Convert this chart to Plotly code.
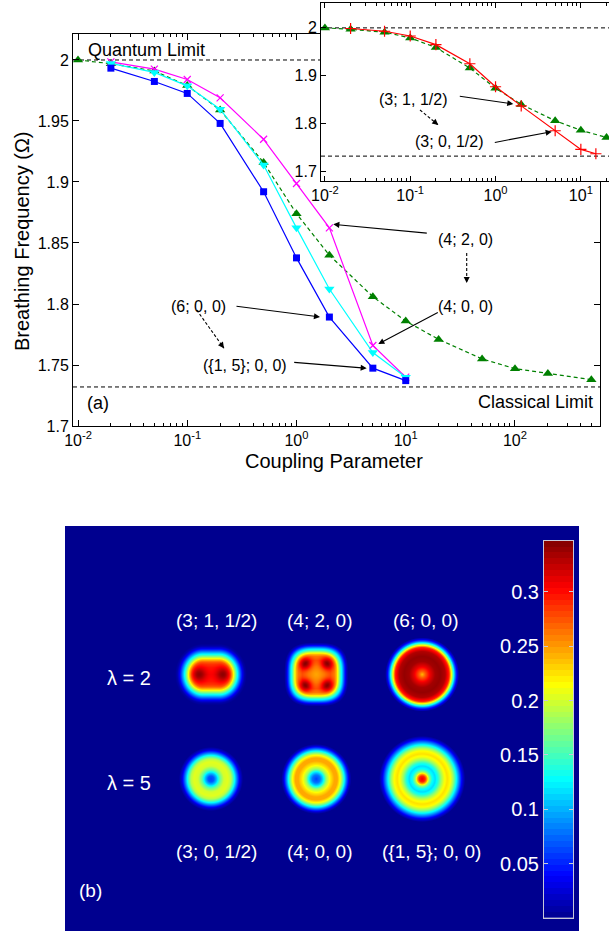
import numpy as np
import plotly.graph_objects as go

W, H = 609, 934
FONT = "Liberation Sans, Arial, Helvetica, sans-serif"

# ---------------- data: panel (a) ----------------
coupling_green = [0.01, 0.02, 0.05, 0.1, 0.2, 0.5, 1, 2, 5, 10, 20, 50, 100, 200, 500]
freq_green = [2.0, 1.997, 1.991, 1.979, 1.959, 1.916, 1.874, 1.840, 1.806, 1.786,
              1.771, 1.755, 1.747, 1.743, 1.738]
coupling_n = [0.02, 0.05, 0.1, 0.2, 0.5, 1, 2, 5, 10]
freq_blue = [1.9933, 1.9824, 1.9726, 1.948, 1.892, 1.8378, 1.7893, 1.7474, 1.7372]
freq_magenta = [1.9985, 1.9925, 1.984, 1.969, 1.935, 1.8988, 1.8624, 1.766, 1.740]
freq_cyan = [1.9972, 1.9898, 1.9788, 1.9597, 1.9139, 1.8624, 1.8123, 1.7602, 1.740]
coupling_red = [0.02, 0.05, 0.1, 0.2, 0.5, 1, 2, 5, 10, 15]
freq_red = [1.9987, 1.993, 1.983, 1.965, 1.925, 1.877, 1.837, 1.785, 1.746, 1.737]
quantum_limit = 2.0
classical_limit = 1.732

main_xrange = [0.009, 600]
inset_xrange = [0.009, 21.4]
main_yticks = [1.7, 1.75, 1.8, 1.85, 1.9, 1.95, 2.0]
main_yticklabels = ["1.7", "1.75", "1.8", "1.85", "1.9", "1.95", "2"]
main_xticks = [0.01, 0.1, 1, 10, 100]
main_xticklabels = ["10<sup>-2</sup>", "10<sup>-1</sup>", "10<sup>0</sup>", "10<sup>1</sup>", "10<sup>2</sup>"]
inset_yticks = [1.7, 1.8, 1.9, 2.0]
inset_yticklabels = ["1.7", "1.8", "1.9", "2"]
inset_xticks = [0.01, 0.1, 1, 10]
inset_xticklabels = main_xticklabels[:4]

# ---------------- data: panel (b) ----------------
states_l2 = ["(3; 1, 1/2)", "(4; 2, 0)", "(6; 0, 0)"]
states_l5 = ["(3; 0, 1/2)", "(4; 0, 0)", "({1, 5}; 0, 0)"]
lambda_labels = ["λ = 2", "λ = 5"]
cbar_ticks = [0.05, 0.1, 0.15, 0.2, 0.25, 0.3]
cbar_ticklabels = ["0.05", "0.1", "0.15", "0.2", "0.25", "0.3"]
density_max = 0.347

# density profiles: radius (image px) -> density
r_31h = [0, 6, 9, 11, 13, 15, 17, 19, 21, 23, 25, 27]
n_31h = [0.30, 0.295, 0.285, 0.27, 0.235, 0.19, 0.145, 0.105, 0.065, 0.03, 0.008, 0.0]
peak_31h = 0.045
r_420 = [0, 8, 14, 18, 20, 22, 24, 26, 28, 30, 32]
n_420 = [0.245, 0.255, 0.27, 0.26, 0.24, 0.20, 0.15, 0.11, 0.06, 0.02, 0.0]
peak_420 = 0.075
r_600 = [0, 3, 8, 13, 18, 23, 27, 29, 31, 33, 35, 37]
n_600 = [0.24, 0.27, 0.31, 0.335, 0.34, 0.33, 0.29, 0.22, 0.15, 0.08, 0.03, 0.0]
r_30h = [0, 3, 6, 9, 13, 17, 20, 23, 26, 29, 32]
n_30h = [0.06, 0.07, 0.11, 0.16, 0.20, 0.205, 0.19, 0.14, 0.08, 0.025, 0.0]
r_400 = [0, 4, 7, 10, 14, 18, 21, 24, 27, 30, 33, 35]
n_400 = [0.06, 0.08, 0.12, 0.18, 0.22, 0.245, 0.245, 0.21, 0.15, 0.08, 0.02, 0.0]
r_15 = [0, 3, 5, 7, 10, 13, 16, 19, 22, 25, 28, 31, 34, 37, 40, 43]
n_15 = [0.31, 0.29, 0.24, 0.18, 0.13, 0.115, 0.14, 0.18, 0.21, 0.225, 0.215, 0.18,
        0.13, 0.08, 0.03, 0.0]

# ---------------- helpers ----------------
def fx(p):
    return p / W


def fy(p):
    return 1 - p / H


jet = [[0.0, "rgb(0,0,143)"], [0.111, "rgb(0,0,255)"], [0.365, "rgb(0,255,255)"],
       [0.619, "rgb(255,255,0)"], [0.873, "rgb(255,0,0)"], [1.0, "rgb(128,0,0)"]]

# ---------------- density image ----------------
PX0, PX1, PY0, PY1 = 65, 579, 526, 931
xs = np.arange(PX0, PX1 + 0.5, 1.0)
ys = np.arange(PY0, PY1 + 0.5, 1.0)
X, Y = np.meshgrid(xs, ys)
Z = np.zeros_like(X)
col_x = [210.5, 315.8, 421.7]
row_y = [674.0, 778.5]


def gauss(dx, dy, s):
    return np.exp(-(dx ** 2 + dy ** 2) / (2 * s * s))


# (3;1,1/2): capsule with two maxima
dx, dy = X - col_x[0], Y - row_y[0]
d = np.sqrt((np.maximum(np.abs(dx) - 8, 0) * 0.97) ** 2 + (0.88 * dy) ** 2)
Z += np.interp(d, r_31h, n_31h, right=0)
for sx in (-12.2, 12.2):
    Z += peak_31h * gauss(dx - sx, dy, 5)
# (4;2,0): rounded square with four maxima
dx, dy = X - col_x[1], Y - row_y[0]
d = (np.abs(dx) ** 3 + np.abs(dy) ** 3) ** (1 / 3)
Z += np.interp(d, r_420, n_420, right=0)
for sx in (-10.8, 10.8):
    for sy in (-10.8, 10.8):
        Z += peak_420 * gauss(dx - sx, dy - sy, 4.5)
# radial ones
for cx, cy, rr, nn in [(col_x[2], row_y[0], r_600, n_600),
                       (col_x[0], row_y[1], r_30h, n_30h),
                       (col_x[1], row_y[1], r_400, n_400),
                       (col_x[2], row_y[1], r_15, n_15)]:
    d = np.hypot(X - cx, Y - cy)
    Z += np.interp(d, rr, nn, right=0)

fig = go.Figure()

# ---------------- panel (a) main ----------------
for lim in (quantum_limit, classical_limit):
    fig.add_trace(go.Scatter(x=main_xrange, y=[lim, lim], mode="lines",
                             line=dict(color="black", width=1, dash="4px,3px"),
                             xaxis="x", yaxis="y", hoverinfo="skip"))
fig.add_trace(go.Scatter(x=coupling_green, y=freq_green, mode="lines+markers",
                         line=dict(color="#008000", width=1.2, dash="4px,3px"),
                         marker=dict(symbol="triangle-up", size=9, color="#008000"),
                         xaxis="x", yaxis="y"))
fig.add_trace(go.Scatter(x=coupling_n, y=freq_magenta, mode="lines+markers",
                         line=dict(color="#ff00ff", width=1.2),
                         marker=dict(symbol="x-thin", size=7, line=dict(color="#ff00ff", width=1.2)),
                         xaxis="x", yaxis="y"))
fig.add_trace(go.Scatter(x=coupling_n, y=freq_cyan, mode="lines+markers",
                         line=dict(color="#00ffff", width=1.2),
                         marker=dict(symbol="triangle-down", size=9, color="#00ffff"),
                         xaxis="x", yaxis="y"))
fig.add_trace(go.Scatter(x=coupling_n, y=freq_blue, mode="lines+markers",
                         line=dict(color="#0000ff", width=1.2),
                         marker=dict(symbol="square", size=7, color="#0000ff"),
                         xaxis="x", yaxis="y"))

# ---------------- panel (a) inset ----------------
for lim in (quantum_limit, classical_limit):
    fig.add_trace(go.Scatter(x=inset_xrange, y=[lim, lim], mode="lines",
                             line=dict(color="black", width=1, dash="4px,3px"),
                             xaxis="x2", yaxis="y2", hoverinfo="skip"))
fig.add_trace(go.Scatter(x=coupling_green, y=freq_green, mode="lines+markers",
                         line=dict(color="#008000", width=1.2, dash="4px,3px"),
                         marker=dict(symbol="triangle-up", size=9, color="#008000"),
                         xaxis="x2", yaxis="y2"))
fig.add_trace(go.Scatter(x=coupling_red, y=freq_red, mode="lines+markers",
                         line=dict(color="#ff0000", width=1.2),
                         marker=dict(symbol="cross-thin", size=8, line=dict(color="#ff0000", width=1.2)),
                         xaxis="x2", yaxis="y2"))

# ---------------- panel (b) ----------------
fig.add_trace(go.Heatmap(x=xs, y=ys, z=Z.astype(np.float32), colorscale=jet, zmin=0,
                         zmax=density_max, showscale=False, hoverinfo="skip",
                         xaxis="x3", yaxis="y3"))
levels = np.linspace(0, density_max, 65)
centers = (levels[:-1] + levels[1:]) / 2
fig.add_trace(go.Heatmap(x=[0], y=centers, z=centers.reshape(-1, 1), colorscale=jet,
                         zmin=0, zmax=density_max, showscale=False, hoverinfo="skip",
                         xaxis="x4", yaxis="y4"))

minor_main = [m * 10.0 ** e for e in range(-3, 3) for m in range(2, 10)]
minor_main = [v for v in minor_main if main_xrange[0] < v < main_xrange[1]]
minor_inset = [v for v in minor_main if inset_xrange[0] < v < inset_xrange[1] * 1.6]

axis_common = dict(showline=True, linecolor="black", linewidth=1, ticks="inside",
                   tickcolor="black", showgrid=False, zeroline=False, automargin=False,
                   tickfont=dict(size=16, color="black", family=FONT))

layout = dict(
    width=W, height=H, autosize=False, margin=dict(l=0, r=0, t=0, b=0, pad=0),
    paper_bgcolor="white", plot_bgcolor="white", showlegend=False,
    font=dict(family=FONT, color="black"),
    xaxis=dict(axis_common, domain=[fx(73), fx(600)], type="log",
               range=[np.log10(main_xrange[0]), np.log10(main_xrange[1])],
               tickmode="array", tickvals=main_xticks, ticktext=main_xticklabels,
               ticklen=6, mirror="ticks", anchor="y",
               minor=dict(tickmode="array", tickvals=minor_main, ticks="inside",
                          ticklen=3, tickcolor="black")),
    yaxis=dict(axis_common, domain=[fy(426), fy(34)], range=[1.7, 2.0213],
               tickmode="array", tickvals=main_yticks, ticktext=main_yticklabels,
               ticklen=6, mirror="ticks", anchor="x"),
    xaxis2=dict(axis_common, domain=[fx(321), 1.0], type="log",
                range=[np.log10(0.009), 1.33],
                tickmode="array", tickvals=inset_xticks, ticktext=inset_xticklabels,
                ticklen=5, mirror="ticks", anchor="y2",
                minor=dict(tickmode="array", tickvals=minor_inset, ticks="inside",
                           ticklen=3, tickcolor="black")),
    yaxis2=dict(axis_common, domain=[fy(181), fy(3)], range=[1.68, 2.052],
                tickmode="array", tickvals=inset_yticks, ticktext=inset_yticklabels,
                ticklen=5, mirror=False, anchor="x2"),
    xaxis3=dict(domain=[fx(PX0), fx(PX1)], range=[PX0, PX1], visible=False,
                anchor="y3", automargin=False),
    yaxis3=dict(domain=[fy(PY1), fy(PY0)], range=[PY1, PY0], visible=False,
                anchor="x3", automargin=False),
    xaxis4=dict(domain=[fx(544), fx(573)], range=[-0.5, 0.5], showticklabels=False,
                ticks="", showline=True, linecolor="#c8c8d8", linewidth=1, mirror=True,
                showgrid=False, zeroline=False, anchor="y4", automargin=False),
    yaxis4=dict(domain=[fy(918), fy(540.7)], range=[0, density_max], showline=True,
                linecolor="#c8c8d8", linewidth=1, mirror="ticks", ticks="inside",
                tickcolor="#c8c8d8", ticklen=4, tickmode="array", tickvals=cbar_ticks,
                ticktext=cbar_ticklabels, showgrid=False, zeroline=False, automargin=False,
                tickfont=dict(size=20, color="white", family=FONT), anchor="x4"),
)

ann = []


def text(x, y, s, size=16, color="black", xanchor="center", angle=0):
    ann.append(dict(xref="paper", yref="paper", x=fx(x), y=fy(y), text=s, showarrow=False,
                    xanchor=xanchor, yanchor="middle", textangle=angle,
                    font=dict(size=size, color=color, family=FONT)))


def arrow(head, tail):
    ann.append(dict(xref="paper", yref="paper", x=fx(head[0]), y=fy(head[1]), text="",
                    showarrow=True, axref="pixel", ayref="pixel",
                    ax=tail[0] - head[0], ay=tail[1] - head[1], arrowhead=2,
                    arrowsize=1.1, arrowwidth=1.1, arrowcolor="black", standoff=0))


shapes = []


def dashed_arrow(head, tail):
    shapes.append(dict(type="line", xref="paper", yref="paper", x0=fx(tail[0]), y0=fy(tail[1]),
                       x1=fx(head[0]), y1=fy(head[1]),
                       line=dict(color="black", width=1.1, dash="3px,2px")))
    vx, vy = tail[0] - head[0], tail[1] - head[1]
    n = (vx ** 2 + vy ** 2) ** 0.5
    ann.append(dict(xref="paper", yref="paper", x=fx(head[0]), y=fy(head[1]), text="",
                    showarrow=True, axref="pixel", ayref="pixel",
                    ax=vx / n * 7, ay=vy / n * 7, arrowhead=2, arrowsize=1.1,
                    arrowwidth=1.1, arrowcolor="black", standoff=0))


# titles and labels, panel (a)
text(22, 241, "Breathing Frequency (Ω)", size=20, angle=-90)
text(334, 461, "Coupling Parameter", size=20)
text(86, 50, "Quantum Limit", size=18, xanchor="left")
text(595, 402, "Classical Limit", size=18, xanchor="right")
text(97.5, 403, "(a)", size=18)
text(465.7, 240, "(4; 2, 0)")
text(465.7, 306, "(4; 0, 0)")
text(198, 306, "(6; 0, 0)")
text(245, 365.7, "({1, 5}; 0, 0)")
text(413.3, 99.3, "(3; 1, 1/2)")
text(449, 141.7, "(3; 0, 1/2)")

arrow((333.3, 224.3), (428.3, 233.3))
arrow((378.3, 344), (439.3, 311.7))
arrow((320, 317), (235, 306))
arrow((366.7, 368.3), (292.7, 362.3))
arrow((513.3, 104), (458.3, 96))
arrow((551.7, 131.7), (493.3, 142.7))
dashed_arrow((466.7, 283), (466.7, 253))
dashed_arrow((224, 348.3), (196.7, 310))
dashed_arrow((438.3, 125), (420, 110))

# panel (b) labels
for s, x in zip(states_l2, [216.7, 319.3, 425.3]):
    text(x, 620, s, size=19, color="white")
for s, x in zip(states_l5, [216.7, 319.3, 431.3]):
    text(x, 851, s, size=19, color="white")
text(128.8, 678.3, lambda_labels[0], size=20, color="white")
text(128.8, 783.3, lambda_labels[1], size=20, color="white")
text(90.5, 890, "(b)", size=19, color="white")

layout["annotations"] = ann
layout["shapes"] = shapes
fig.update_layout(**layout)
fig.write_html("out.html", config={"displayModeBar": False},
               post_script="document.body.style.margin='0';document.body.style.overflow='hidden';")
